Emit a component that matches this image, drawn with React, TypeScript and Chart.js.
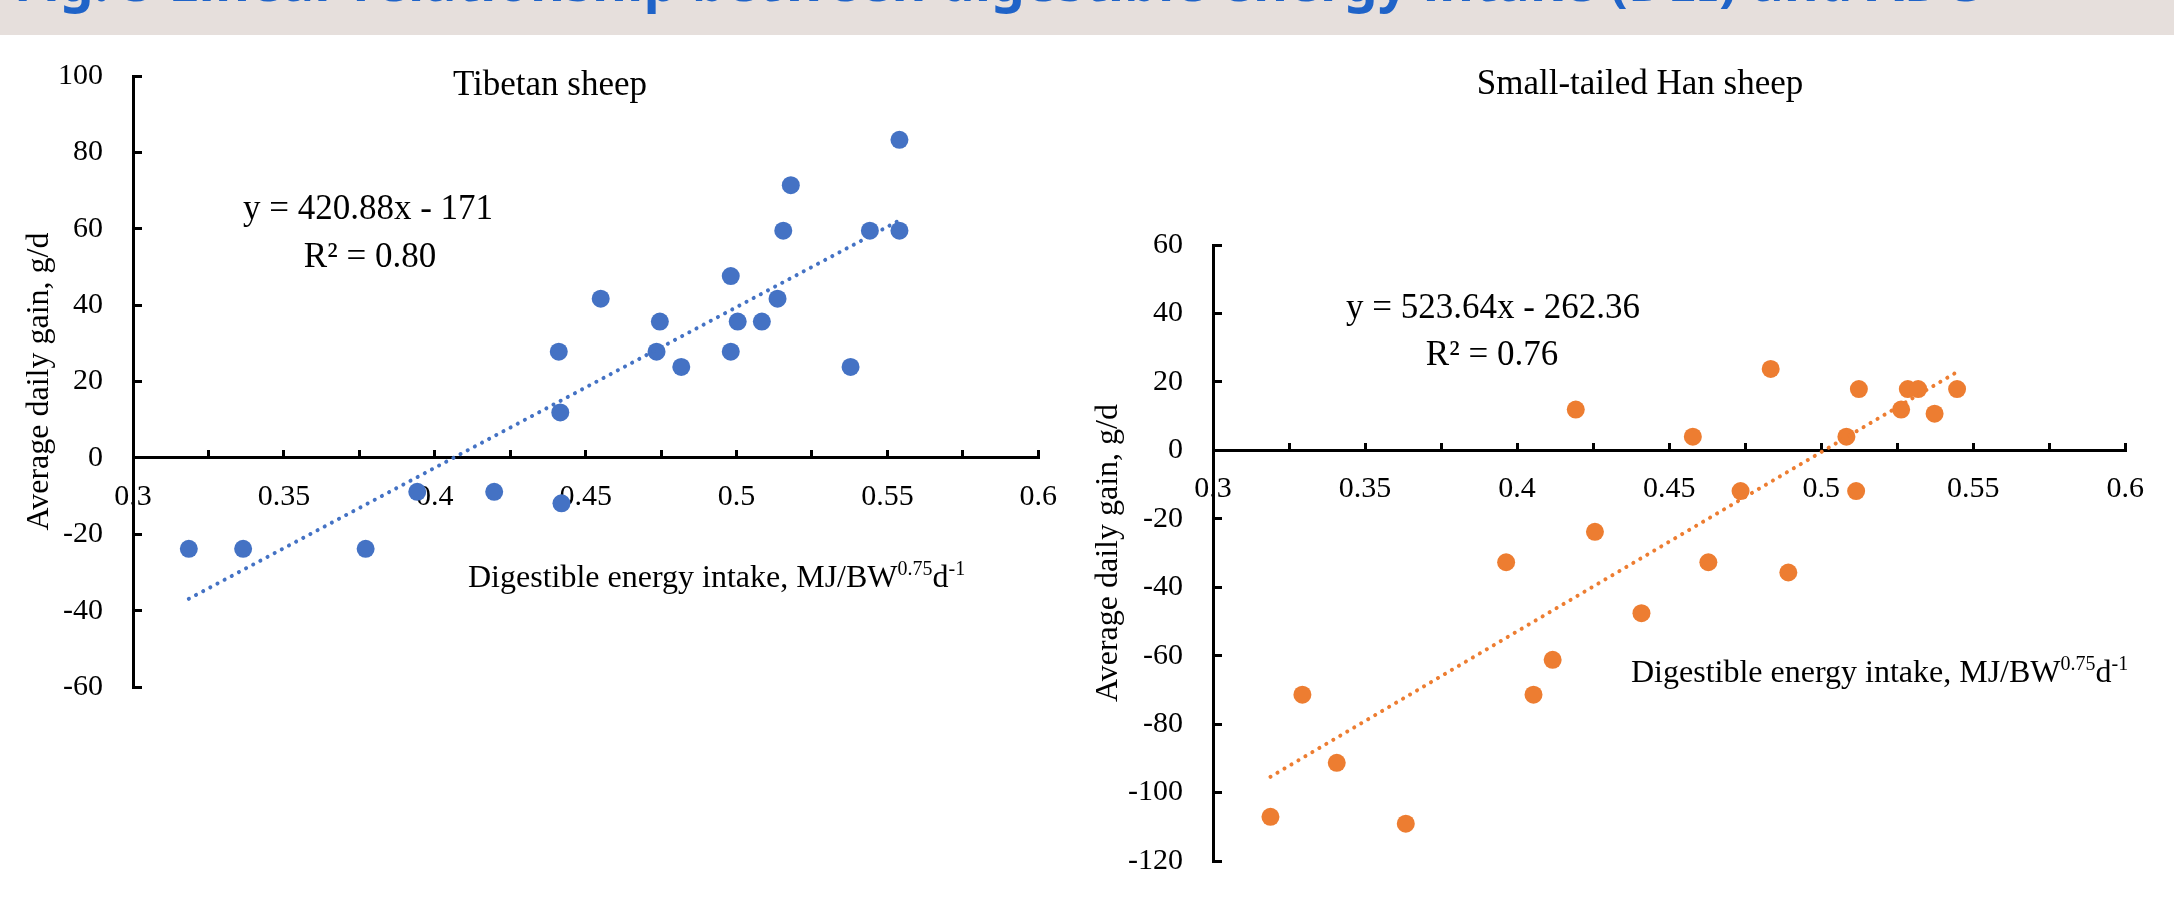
import React, { useEffect, useRef } from "react";
import { Chart, registerables } from "chart.js";

Chart.register(...registerables);

// ---------- Data ----------
// Tibetan sheep
const tibetanDEI = [0.554, 0.518, 0.5155, 0.5442, 0.554, 0.4981, 0.455, 0.5136, 0.4746, 0.5004, 0.5084, 0.4411, 0.4735, 0.4981, 0.4817, 0.5378, 0.4416, 0.3942, 0.4197, 0.442, 0.3185, 0.3365, 0.3771];
const tibetanADG = [83.3, 71.4, 59.5, 59.5, 59.5, 47.6, 41.7, 41.7, 35.7, 35.7, 35.7, 27.8, 27.8, 27.8, 23.8, 23.8, 11.9, -8.9, -8.9, -11.9, -23.8, -23.8, -23.8];
const tibetanTrendDEI = [0.3185, 0.554];
const tibetanTrendADG = [-36.9, 62.2];

// Small-tailed Han sheep
const hanDEI = [0.4834, 0.4193, 0.4578, 0.5124, 0.5285, 0.5319, 0.5447, 0.5263, 0.5373, 0.5083, 0.4735, 0.5115, 0.4256, 0.3964, 0.4629, 0.4892, 0.4409, 0.4117, 0.4054, 0.3294, 0.3407, 0.3189, 0.3634];
const hanADG = [23.8, 11.9, 4.0, 17.9, 17.9, 17.9, 17.9, 11.9, 10.7, 4.0, -11.9, -11.9, -23.8, -32.7, -32.7, -35.7, -47.6, -61.2, -71.4, -71.4, -91.3, -107.1, -109.1];
const hanTrendDEI = [0.3189, 0.5447];
const hanTrendADG = [-95.4, 22.9];

// Tick labels
const xTickLabels = ["0.3", "0.35", "0.4", "0.45", "0.5", "0.55", "0.6"];
const tibetanYTicks = [-60, -40, -20, 0, 20, 40, 60, 80, 100];
const hanYTicks = [-120, -100, -80, -60, -40, -20, 0, 20, 40, 60];

// Texts
const figureTitle = "Fig. 5 Linear relationship between digestible energy intake (DEI) and ADG";
const yAxisTitle = "Average daily gain, g/d";
const xAxisTitleParts = [
  { text: "Digestible energy intake, MJ/BW", sup: false },
  { text: "0.75", sup: true },
  { text: "d", sup: false },
  { text: "-1", sup: true },
];

const SERIF = '"Liberation Serif", "Times New Roman", serif';

type Panel = {
  dei: number[];
  adg: number[];
  trendDei: number[];
  trendAdg: number[];
  yTicks: number[];
  color: string;
  title: string;
  equation: string;
  r2: string;
  layout: {
    top: number;
    right: number;
    bottom: number;
    axisWidth: number;
    yTitlePad: number;
    titleX: number;
    titleY: number;
    eqX: number;
    eqY: number;
    r2X: number;
    r2Y: number;
    xTitleX: number;
    xTitleY: number;
  };
};

const panels: Panel[] = [
  {
    dei: tibetanDEI,
    adg: tibetanADG,
    trendDei: tibetanTrendDEI,
    trendAdg: tibetanTrendADG,
    yTicks: tibetanYTicks,
    color: "#4472C4",
    title: "Tibetan sheep",
    equation: "y = 420.88x - 171",
    r2: "R² = 0.80",
    layout: {
      top: 76, right: 42, bottom: 231, axisWidth: 133, yTitlePad: 20,
      titleX: 550, titleY: 95, eqX: 368, eqY: 219, r2X: 370, r2Y: 267,
      xTitleX: 468, xTitleY: 587,
    },
  },
  {
    dei: hanDEI,
    adg: hanADG,
    trendDei: hanTrendDEI,
    trendAdg: hanTrendADG,
    yTicks: hanYTicks,
    color: "#ED7D31",
    title: "Small-tailed Han sheep",
    equation: "y = 523.64x - 262.36",
    r2: "R² = 0.76",
    layout: {
      top: 245, right: 36, bottom: 28, axisWidth: 126, yTitlePad: 2,
      titleX: 553, titleY: 94, eqX: 406, eqY: 318, r2X: 405, r2Y: 365,
      xTitleX: 544, xTitleY: 682,
    },
  },
];

function textPlugin(p: Panel) {
  return {
    id: "panelTexts",
    afterDraw(chart: any) {
      const ctx = chart.ctx as CanvasRenderingContext2D;
      const L = p.layout;
      ctx.save();
      ctx.fillStyle = "#000";
      ctx.textBaseline = "alphabetic";
      ctx.textAlign = "center";
      ctx.font = `35px ${SERIF}`;
      ctx.fillText(p.title, L.titleX, L.titleY);
      ctx.fillText(p.equation, L.eqX, L.eqY);
      ctx.fillText(p.r2, L.r2X, L.r2Y);
      ctx.textAlign = "left";
      let x = L.xTitleX;
      for (const part of xAxisTitleParts) {
        ctx.font = part.sup ? `20px ${SERIF}` : `32px ${SERIF}`;
        ctx.fillText(part.text, x, part.sup ? L.xTitleY - 12 : L.xTitleY);
        x += ctx.measureText(part.text).width;
      }
      ctx.restore();
    },
  };
}

function buildConfig(p: Panel): any {
  const L = p.layout;
  const points = p.dei.map((x, i) => ({ x, y: p.adg[i] }));
  const trend = p.trendDei.map((x, i) => ({ x, y: p.trendAdg[i] }));
  const axisGrid = {
    drawOnChartArea: false,
    drawTicks: true,
    tickLength: -9,
    color: "#000",
    lineWidth: 3,
  };
  const axisBorder = { display: true, color: "#000", width: 3 };
  return {
    type: "scatter",
    data: {
      datasets: [
        {
          type: "line",
          data: trend,
          showLine: true,
          borderColor: p.color,
          borderWidth: 4,
          borderDash: [0.1, 8],
          borderCapStyle: "round",
          pointRadius: 0,
          fill: false,
          order: 1,
        },
        {
          type: "scatter",
          data: points,
          pointRadius: 9,
          pointHoverRadius: 9,
          backgroundColor: p.color,
          borderColor: p.color,
          borderWidth: 0,
          order: 2,
        },
      ],
    },
    options: {
      responsive: false,
      animation: false,
      events: [],
      layout: { padding: { left: 0, top: L.top, right: L.right, bottom: L.bottom } },
      plugins: {
        legend: { display: false },
        tooltip: { enabled: false },
        title: { display: false },
      },
      scales: {
        x: {
          type: "linear",
          position: { y: 0 },
          min: 0.3,
          max: 0.6,
          afterFit: (s: any) => {
            s.height = 0;
          },
          ticks: {
            stepSize: 0.025,
            autoSkip: false,
            maxRotation: 0,
            minRotation: 0,
            padding: 30,
            color: "#000",
            font: { family: SERIF, size: 30 },
            callback: (v: number) => {
              const s = xTickLabels.find((l) => Math.abs(Number(l) - v) < 1e-6);
              return s ?? "";
            },
          },
          grid: axisGrid,
          border: axisBorder,
        },
        y: {
          type: "linear",
          position: "left",
          min: p.yTicks[0],
          max: p.yTicks[p.yTicks.length - 1],
          afterFit: (s: any) => {
            s.width = L.axisWidth;
          },
          ticks: {
            stepSize: 20,
            padding: 39,
            color: "#000",
            font: { family: SERIF, size: 30 },
            callback: (v: number) => {
              const t = p.yTicks.find((n) => Math.abs(n - v) < 1e-6);
              return t === undefined ? "" : String(t);
            },
          },
          grid: axisGrid,
          border: axisBorder,
          title: {
            display: true,
            text: yAxisTitle,
            color: "#000",
            font: { family: SERIF, size: 32 },
            padding: { top: L.yTitlePad, bottom: 0 },
          },
        },
      },
    },
    plugins: [textPlugin(p)],
  };
}

function ScatterPanel({ panel, left }: { panel: Panel; left: number }) {
  const ref = useRef<HTMLCanvasElement>(null);
  useEffect(() => {
    if (!ref.current) return;
    const chart = new Chart(ref.current, buildConfig(panel));
    return () => chart.destroy();
  }, [panel]);
  return (
    <canvas
      ref={ref}
      width={1087}
      height={918}
      style={{ position: "absolute", left, top: 0, width: 1087, height: 918, display: "block" }}
    />
  );
}

export default function App() {
  return (
    <div
      style={{
        position: "absolute",
        left: 0,
        top: 0,
        width: 2174,
        height: 918,
        overflow: "hidden",
        background: "#fff",
      }}
    >
      <ScatterPanel panel={panels[0]} left={0} />
      <ScatterPanel panel={panels[1]} left={1087} />
      <div
        style={{
          position: "absolute",
          left: 0,
          top: 0,
          width: 2174,
          height: 35,
          background: "#e6dfdc",
          overflow: "hidden",
          zIndex: 2,
        }}
      >
        <div
          style={{
            position: "absolute",
            left: 14,
            top: -46,
            fontFamily: '"Noto Sans", "Open Sans", sans-serif',
            fontWeight: 700,
            fontSize: 53,
            lineHeight: "53px",
            letterSpacing: "0.5px",
            color: "#1F63C8",
            whiteSpace: "nowrap",
          }}
        >
          {figureTitle}
        </div>
      </div>
    </div>
  );
}
